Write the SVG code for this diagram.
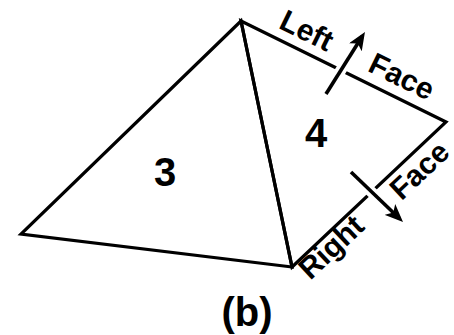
<svg xmlns="http://www.w3.org/2000/svg" width="454" height="335" viewBox="0 0 454 335">
<style>
.edge{fill:none;stroke:#000;stroke-width:3.2;stroke-linejoin:miter}
.lbl{font-family:"Liberation Sans",Arial,sans-serif;font-weight:bold;fill:#000;text-anchor:middle}
.num{font-size:40px}
.face{font-size:30px}
.gap{stroke:#fff;stroke-width:11;fill:none}
.shaft{stroke:#000;stroke-width:3.6;fill:none}
</style>
<defs>
<marker id="ah" markerUnits="userSpaceOnUse" viewBox="0 0 18 15" markerWidth="18" markerHeight="15" refX="13" refY="7.5" orient="auto">
<path d="M0,0 L18,7.5 L0,15 L4.5,7.5 Z" fill="#000"/>
</marker>
</defs>
<rect width="454" height="335" fill="#fff"/>
<g id="face3">
<polygon class="edge" points="241,21 21,234 292,267"/>
<text class="lbl num" x="165" y="186">3</text>
</g>
<g id="face4">
<polygon class="edge" points="241,21 446,122 292,267"/>
<text class="lbl num" x="316" y="147">4</text>
</g>
<g id="connectors">
<line class="gap" x1="334" y1="81" x2="348" y2="59"/>
<line class="shaft" x1="326" y1="94" x2="362.3" y2="36.3" marker-end="url(#ah)"/>
<line class="gap" x1="364" y1="185" x2="380" y2="200"/>
<line class="shaft" x1="351" y1="172" x2="399.4" y2="218.5" marker-end="url(#ah)"/>
</g>
<g id="labels">
<text class="lbl face" transform="translate(307,30) rotate(26.2)" x="0" y="10.8">Left</text>
<text class="lbl face" transform="translate(402,76) rotate(26.2)" x="0" y="10.8">Face</text>
<text class="lbl face" transform="translate(333,249) rotate(-43.3)" x="0" y="7.6">Right</text>
<text class="lbl face" transform="translate(419,170) rotate(-43.3)" x="0" y="10.8">Face</text>
<text class="lbl num" x="247" y="326">(b)</text>
</g>
</svg>
